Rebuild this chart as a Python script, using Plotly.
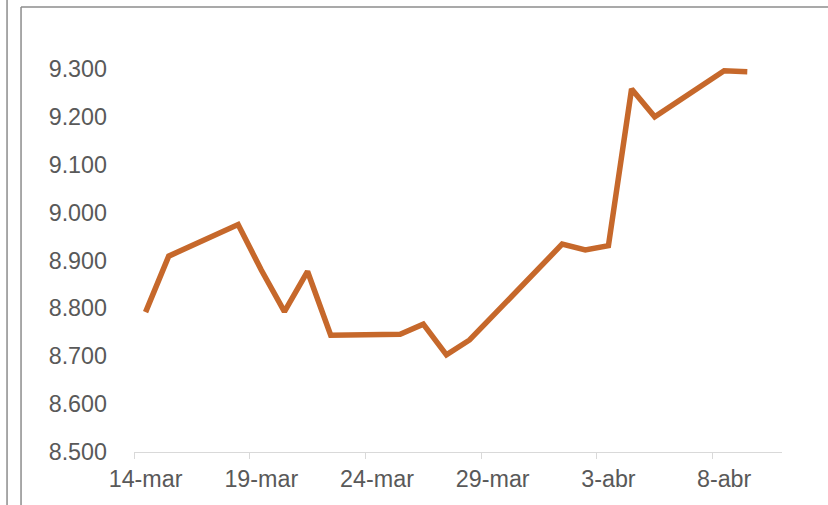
import plotly.graph_objects as go

dates = ["2019-03-14", "2019-03-15", "2019-03-18", "2019-03-19", "2019-03-20", "2019-03-21",
         "2019-03-22", "2019-03-25", "2019-03-26", "2019-03-27", "2019-03-28", "2019-04-01",
         "2019-04-02", "2019-04-03", "2019-04-04", "2019-04-05", "2019-04-08", "2019-04-09"]
values = [8.792, 8.909, 8.975, 8.880, 8.793, 8.877, 8.744, 8.746, 8.767, 8.703, 8.734, 8.934,
          8.922, 8.931, 9.258, 9.200, 9.296, 9.294]
tick_dates = ["2019-03-14", "2019-03-19", "2019-03-24", "2019-03-29", "2019-04-03", "2019-04-08"]
tick_labels = ["14-mar", "19-mar", "24-mar", "29-mar", "3-abr", "8-abr"]
y_ticks = [8.5, 8.6, 8.7, 8.8, 8.9, 9.0, 9.1, 9.2, 9.3]
y_labels = ["8.500", "8.600", "8.700", "8.800", "8.900", "9.000", "9.100", "9.200", "9.300"]

# points sit at the centre of each day band
x_pts = [d + " 12:00" for d in dates]
x_tick_centres = [d + " 12:00" for d in tick_dates]

W, H = 828, 505
L, R, T, B = 133.5, 46.3, 21, 53
pw, ph = W - L - R, H - T - B

def px(x):
    return (x - L) / pw

def py(y):
    return (H - B - y) / ph

fig = go.Figure()
fig.add_trace(go.Scatter(x=x_pts, y=values, mode="lines",
                         line=dict(color="#C6682B", width=5.5, shape="linear"),
                         hoverinfo="x+y", showlegend=False))

font = dict(family="Liberation Sans, Arial, sans-serif", size=23.3, color="#595959")

fig.update_layout(
    width=W, height=H,
    margin=dict(l=L, r=R, t=T, b=B, pad=0),
    paper_bgcolor="white", plot_bgcolor="white",
    font=font,
    xaxis=dict(type="date", range=["2019-03-14", "2019-04-11"],
               tickmode="array", tickvals=x_tick_centres, ticktext=tick_labels,
               ticks="", showgrid=False, zeroline=False,
               showline=True, linecolor="#D9D9D9", linewidth=1.3,
               ticklabelstandoff=6,
               minor=dict(tickmode="array", tickvals=tick_dates, ticks="outside",
                          ticklen=6, tickcolor="#D9D9D9", tickwidth=1.3, showgrid=False),
               tickfont=font, fixedrange=True),
    yaxis=dict(range=[8.5, 9.4], tickmode="array", tickvals=y_ticks, ticktext=y_labels,
               showgrid=False, zeroline=False, showline=False, ticks="",
               ticklabelstandoff=26, tickfont=font, fixedrange=True),
)

frame_color = "#8C8C8C"
shapes = [
    dict(type="line", xref="paper", yref="paper", x0=px(6.5), x1=px(6.5), y0=py(0), y1=py(H),
         line=dict(color=frame_color, width=1.5)),
    dict(type="line", xref="paper", yref="paper", x0=px(20.5), x1=px(20.5), y0=py(7), y1=py(H),
         line=dict(color=frame_color, width=1.5)),
    dict(type="line", xref="paper", yref="paper", x0=px(20.5), x1=px(W), y0=py(7), y1=py(7),
         line=dict(color=frame_color, width=1.5)),
]
fig.update_layout(shapes=shapes)

fig.write_html("out.html", config={"displayModeBar": False},
               post_script="document.body.style.margin='0px';document.body.style.overflow='hidden';")
